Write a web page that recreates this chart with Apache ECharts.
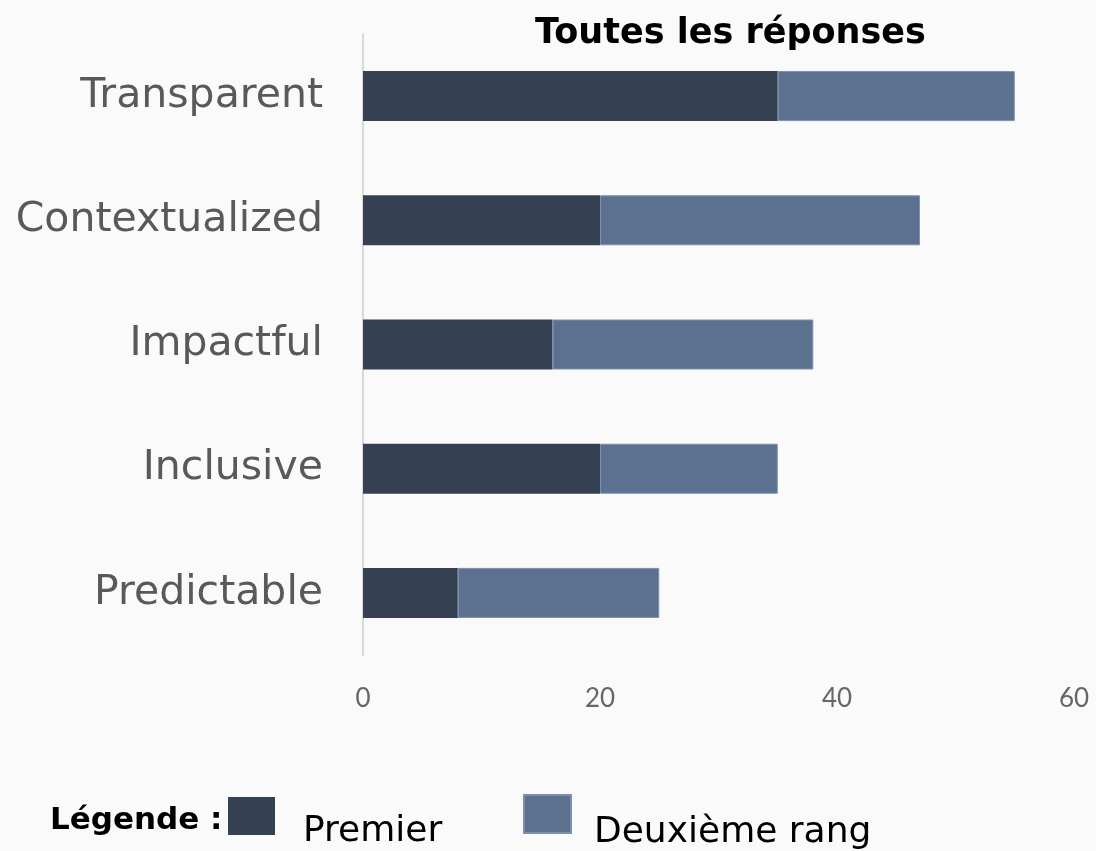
<!DOCTYPE html>
<html>
<head>
<meta charset="utf-8">
<script src="https://cdn.jsdelivr.net/npm/echarts@6/dist/echarts.min.js"></script>
<style>
  html, body { margin: 0; padding: 0; background: #fafafa; }
  #chart { width: 1096px; height: 851px; }
</style>
</head>
<body>
<div id="chart"></div>
<script>
const categories = ['Transparent', 'Contextualized', 'Impactful', 'Inclusive', 'Predictable']
const premier = [35, 20, 16, 20, 8]
const deuxieme = [20, 27, 22, 15, 17]
const xTicks = [0, 20, 40, 60]

const DARK = '#354052'
const LIGHT = '#5c7190'
const FONT = '"DejaVu Sans", sans-serif'
const TICK_FONT = 'Lato, sans-serif'

const chart = echarts.init(document.getElementById('chart'))

// legend text sits lower than the square in the original, shift it with rich padding
function legendText(pad, left) {
  return { formatter: '{t|{name}}', textStyle: { rich: { t: { fontSize: 36, color: '#000', fontFamily: FONT, padding: [pad, 0, 0, left] } } } }
}

chart.setOption({
  backgroundColor: '#fafafa',
  textStyle: { fontFamily: FONT },
  title: {
    text: 'Toutes les réponses',
    left: 530,
    top: 11,
    textStyle: { fontSize: 35, fontWeight: 'bold', color: '#000', fontFamily: FONT },
  },
  grid: { left: 363, right: 22, top: 34, bottom: 196 },
  xAxis: {
    type: 'value',
    min: xTicks[0],
    max: xTicks[xTicks.length - 1],
    interval: 20,
    axisLine: { show: false },
    axisTick: { show: false },
    splitLine: { show: false },
    axisLabel: { color: '#666', fontSize: 26, margin: 31, fontFamily: TICK_FONT },
  },
  yAxis: {
    type: 'category',
    inverse: true,
    data: categories,
    axisLine: { lineStyle: { color: '#d9d9d9', width: 2 } },
    axisTick: { show: false },
    axisLabel: { color: '#595959', fontSize: 41, margin: 40, padding: [6, 0, 0, 0] },
  },
  legend: [
    Object.assign({
      left: 228,
      top: 797,
      padding: 0,
      icon: 'rect',
      itemWidth: 47,
      itemHeight: 38,
      data: ['Premier'],
    }, legendText(32, 23)),
    Object.assign({
      left: 523,
      top: 794,
      padding: 0,
      icon: 'rect',
      itemWidth: 47,
      itemHeight: 38,
      data: ['Deuxième rang'],
    }, legendText(38, 18)),
  ],
  graphic: [
    {
      type: 'text',
      left: 50,
      top: 805,
      style: { text: 'Légende :', fontSize: 31, fontWeight: 'bold', fill: '#000', fontFamily: FONT },
    },
  ],
  series: [
    {
      name: 'Premier',
      type: 'bar',
      stack: 'total',
      barWidth: 50,
      itemStyle: { color: DARK },
      data: premier,
    },
    {
      name: 'Deuxième rang',
      type: 'bar',
      stack: 'total',
      barWidth: 50,
      itemStyle: { color: LIGHT, borderColor: '#7d8fab', borderWidth: 1 },
      data: deuxieme,
    },
  ],
})
</script>
</body>
</html>
